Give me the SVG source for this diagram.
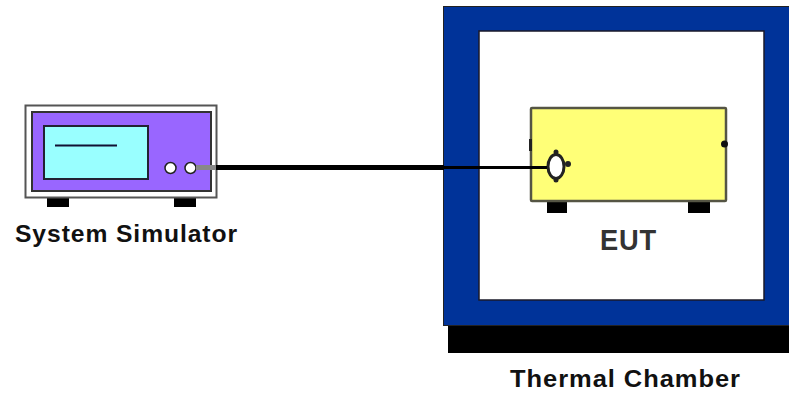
<svg xmlns="http://www.w3.org/2000/svg" width="789" height="396" viewBox="0 0 789 396">
<style>
.lbl{font-family:"Liberation Sans",Arial,sans-serif;font-weight:700;fill:#111;letter-spacing:.9px}
.eut-lbl{fill:#333}
.foot{fill:#000}
.port{fill:#fff;stroke:#222;stroke-width:1.500}
</style>
<rect width="789" height="396" fill="#fff"/>
<g id="thermal-chamber">
<rect x="448" y="320" width="341" height="33" fill="#000"/>
<rect x="443.500" y="6.500" width="346" height="319" fill="#003399" stroke="#222" stroke-width="1"/>
<rect x="479" y="31" width="285" height="269" fill="#fff" stroke="#1a1a2a" stroke-width="1.500"/>
<text class="lbl" x="510" y="387" font-size="24" textLength="231" lengthAdjust="spacingAndGlyphs">Thermal Chamber</text>
</g>
<g id="system-simulator">
<rect class="foot" x="47" y="197" width="22" height="10"/>
<rect class="foot" x="174" y="197" width="22" height="10"/>
<rect x="25.500" y="105.500" width="191" height="92" fill="#fff" stroke="#555" stroke-width="2"/>
<rect x="32" y="112" width="179" height="79" fill="#9966ff" stroke="#333" stroke-width="2"/>
<rect x="44" y="126" width="104" height="53" fill="#99ffff" stroke="#223" stroke-width="2"/>
<line x1="55" y1="145.500" x2="117" y2="145.500" stroke="#113" stroke-width="2"/>
<circle class="port" cx="170.500" cy="168" r="5.500"/>
<circle class="port" cx="190.500" cy="168" r="5.500"/>
<text class="lbl" x="15" y="242" font-size="24" textLength="223" lengthAdjust="spacingAndGlyphs">System Simulator</text>
</g>
<g id="eut">
<rect class="foot" x="547" y="201" width="20" height="12"/>
<rect class="foot" x="688" y="201" width="22" height="12"/>
<rect x="531" y="108" width="195" height="93" fill="#ffff77" stroke="#555544" stroke-width="2.500" rx="1"/>
<rect x="529" y="139" width="3" height="12" fill="#222"/>
<circle cx="724.500" cy="144" r="3.500" fill="#111"/>
<circle cx="568" cy="164" r="3" fill="#222"/>
<circle cx="556" cy="152" r="2.500" fill="#222"/>
<circle cx="556" cy="180" r="2.500" fill="#222"/>
<ellipse cx="556" cy="166.500" rx="8" ry="12" fill="#fff" stroke="#222" stroke-width="3"/>
<text class="lbl eut-lbl" x="600" y="250" font-size="30" textLength="57" lengthAdjust="spacingAndGlyphs">EUT</text>
</g>
<g id="connectors" fill="none">
<line x1="196" y1="167.500" x2="216" y2="167.500" stroke="#888" stroke-width="5"/>
<line x1="216" y1="167.500" x2="444" y2="167.500" stroke="#000" stroke-width="5"/>
<line x1="444" y1="167.500" x2="547" y2="167.500" stroke="#000" stroke-width="3"/>
</g>
</svg>
